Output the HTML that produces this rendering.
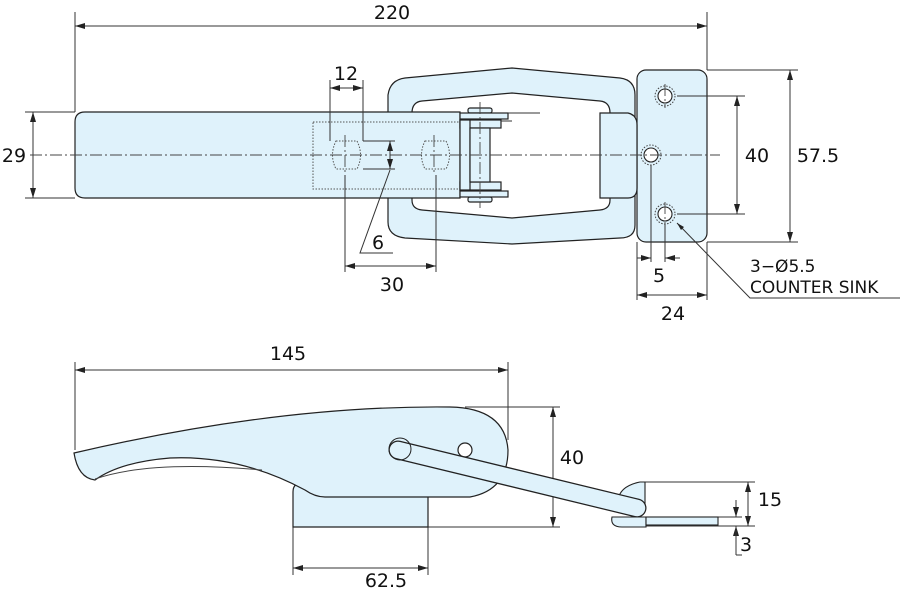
<!DOCTYPE html>
<html><head><style>
html,body{margin:0;padding:0;background:#fff;}
svg{display:block;}
text{font-family:"DejaVu Sans","Liberation Sans",sans-serif;font-size:19px;fill:#111;}
</style></head><body>
<svg width="900" height="590" viewBox="0 0 900 590" xmlns="http://www.w3.org/2000/svg">
<defs>
<marker id="a" viewBox="0 0 10 6" refX="10" refY="3" markerWidth="10" markerHeight="6" orient="auto-start-reverse" markerUnits="userSpaceOnUse"><path d="M0,0L10,3L0,6z" fill="#222"/></marker>
</defs>
<g stroke="#333" stroke-width="1" fill="none">
<!-- top view extension / dims -->
<line x1="75" y1="12" x2="75" y2="112"/>
<line x1="707" y1="12" x2="707" y2="70"/>
<line x1="75" y1="26" x2="707" y2="26" marker-start="url(#a)" marker-end="url(#a)"/>
<line x1="25" y1="112" x2="75" y2="112"/>
<line x1="25" y1="198" x2="75" y2="198"/>
<line x1="33" y1="112" x2="33" y2="198" marker-start="url(#a)" marker-end="url(#a)"/>
</g>
<!-- loop frame -->
<path d="M388,95 Q390,80 405,78 L512,68 L620,78 Q635,80 635,95 L635,225 Q635,238 620,238 L512,244 L405,238 Q388,236 388,222 Z M412,113 Q412,102 422,101 L512,93 L600,101 Q610,102 610,113 L610,200 Q610,209 600,210 L512,218 L422,210 Q412,209 412,200 Z" fill="#dff2fb" fill-rule="evenodd" stroke="#222" stroke-width="1.2"/>
<!-- right plate -->
<rect x="637" y="70" width="70" height="172" rx="9" fill="#dff2fb" stroke="#222" stroke-width="1.2"/>
<!-- hinge block -->
<path d="M600,113 L628,113 Q637,115 637,125 L637,188 Q637,198 628,198 L600,198 Z" fill="#dff2fb" stroke="#222" stroke-width="1.2"/>
<!-- bar -->
<path d="M460,112 L85,112 Q75,112 75,122 L75,188 Q75,198 85,198 L460,198 Z" fill="#dff2fb" stroke="#222" stroke-width="1.2"/>
<rect x="313" y="122" width="147" height="67" fill="none" stroke="#555" stroke-dasharray="1.5,1.5"/>
<!-- slots -->
<g fill="none" stroke="#555" stroke-dasharray="1.5,1.5">
<path d="M336,141 L357,141 Q364,155 357,169 L336,169 Q329,155 336,141Z"/>
<path d="M425,141 L446,141 Q453,155 446,169 L425,169 Q418,155 425,141Z"/>
</g>
<!-- pin assembly -->
<g fill="#dff2fb" stroke="#222" stroke-width="1.2">
<rect x="468" y="108" width="24" height="5" rx="2"/>
<rect x="468" y="197" width="24" height="5" rx="2"/>
<rect x="460" y="113" width="48" height="6"/>
<rect x="460" y="191" width="48" height="6"/>
<rect x="460" y="120" width="41" height="8"/>
<rect x="460" y="182" width="41" height="8"/>
<rect x="460" y="120" width="10" height="70"/>
<rect x="470" y="128" width="20" height="54"/>
</g>
<!-- holes -->
<g fill="#fff" stroke="#222" stroke-width="1.1">
<circle cx="665" cy="96" r="7"/><circle cx="651" cy="155" r="7"/><circle cx="665" cy="214" r="7"/>
</g>
<g fill="none" stroke="#444" stroke-dasharray="1.5,1.5">
<circle cx="665" cy="96" r="10"/><circle cx="651" cy="155" r="10"/><circle cx="665" cy="214" r="10"/>
</g>
<!-- centerlines -->
<g stroke="#444" stroke-width="0.9" fill="none" stroke-dasharray="12,3,2,3">
<line x1="30" y1="155" x2="720" y2="155"/>
<line x1="480" y1="102" x2="480" y2="208"/>
<line x1="665" y1="84" x2="665" y2="108"/>
<line x1="665" y1="202" x2="665" y2="226"/>
<line x1="345" y1="135" x2="345" y2="175"/>
<line x1="434" y1="135" x2="434" y2="175"/>
</g>
<g stroke="#333" stroke-width="1" fill="none">
<line x1="508" y1="113" x2="540" y2="113"/>
<line x1="501" y1="121" x2="512" y2="121"/>
<!-- 40 / 57.5 -->
<line x1="677" y1="96" x2="745" y2="96"/>
<line x1="677" y1="214" x2="745" y2="214"/>
<line x1="707" y1="70" x2="798" y2="70"/>
<line x1="707" y1="242" x2="798" y2="242"/>
<line x1="737" y1="96" x2="737" y2="214" marker-start="url(#a)" marker-end="url(#a)"/>
<line x1="790" y1="70" x2="790" y2="242" marker-start="url(#a)" marker-end="url(#a)"/>
<!-- 12 -->
<line x1="330" y1="80" x2="330" y2="141"/>
<line x1="363" y1="80" x2="363" y2="141"/>
<line x1="330" y1="88" x2="363" y2="88" marker-start="url(#a)" marker-end="url(#a)"/>
<!-- 6 -->
<line x1="363" y1="141" x2="395" y2="141"/>
<line x1="363" y1="169" x2="395" y2="169"/>
<line x1="390" y1="141" x2="390" y2="169" marker-start="url(#a)" marker-end="url(#a)"/>
<polyline points="390,170 360,253 393,253"/>
<!-- 30 -->
<line x1="345" y1="175" x2="345" y2="272"/>
<line x1="436" y1="175" x2="436" y2="272"/>
<line x1="345" y1="266" x2="436" y2="266" marker-start="url(#a)" marker-end="url(#a)"/>
<!-- 5 / 24 -->
<line x1="637" y1="242" x2="637" y2="300"/>
<line x1="707" y1="242" x2="707" y2="300"/>
<line x1="651" y1="165" x2="651" y2="262"/>
<line x1="665" y1="224" x2="665" y2="262"/>
<line x1="637" y1="258" x2="651" y2="258" marker-end="url(#a)"/>
<line x1="680" y1="258" x2="665" y2="258" marker-end="url(#a)"/>
<line x1="637" y1="295" x2="707" y2="295" marker-start="url(#a)" marker-end="url(#a)"/>
<polyline points="900,298 750,298 677,223" />
</g>
<path d="M677,223 L684,227 L681,230 Z" fill="#222"/>
<text x="392" y="19" text-anchor="middle">220</text>
<text x="14" y="162" text-anchor="middle">29</text>
<text x="346" y="80" text-anchor="middle">12</text>
<text x="378" y="249" text-anchor="middle">6</text>
<text x="392" y="291" text-anchor="middle">30</text>
<text x="757" y="162" text-anchor="middle">40</text>
<text x="818" y="162" text-anchor="middle">57.5</text>
<text x="659" y="282" text-anchor="middle">5</text>
<text x="673" y="320" text-anchor="middle">24</text>
<text x="750" y="272" style="font-size:17px">3−Ø5.5</text>
<text x="750" y="293" style="font-size:17px">COUNTER SINK</text>

<!-- bottom view -->
<g stroke="#333" stroke-width="1" fill="none">
<line x1="75" y1="362" x2="75" y2="450"/>
<line x1="508" y1="362" x2="508" y2="440"/>
<line x1="75" y1="370" x2="508" y2="370" marker-start="url(#a)" marker-end="url(#a)"/>
<line x1="465" y1="407" x2="560" y2="407"/>
<line x1="428" y1="527" x2="560" y2="527"/>
<line x1="553" y1="407" x2="553" y2="527" marker-start="url(#a)" marker-end="url(#a)"/>
<line x1="293" y1="527" x2="293" y2="575"/>
<line x1="428" y1="527" x2="428" y2="575"/>
<line x1="293" y1="568" x2="428" y2="568" marker-start="url(#a)" marker-end="url(#a)"/>
<line x1="645" y1="482" x2="755" y2="482"/>
<line x1="718" y1="517" x2="742" y2="517"/>
<line x1="645" y1="526" x2="755" y2="526"/>
<line x1="748" y1="482" x2="748" y2="526" marker-start="url(#a)" marker-end="url(#a)"/>
<line x1="736" y1="500" x2="736" y2="517" marker-end="url(#a)"/>
<line x1="736" y1="545" x2="736" y2="526" marker-end="url(#a)"/>
<line x1="736" y1="526" x2="736" y2="555"/>
<line x1="736" y1="555" x2="742" y2="555"/>
</g>
<!-- base -->
<path d="M293,527 L293,492 Q293,483 302,483 L428,483 L428,527 Z" fill="#dff2fb" stroke="#222" stroke-width="1.2"/>
<!-- handle -->
<path d="M74,453 Q280,405 450,407 Q505,408 508,450 Q508,490 470,497 L325,497 Q315,497 305,490 Q240,455 170,458 Q120,462 95,480 Q78,478 74,453 Z" fill="#dff2fb" stroke="#222" stroke-width="1.2"/>
<path d="M95,479 Q150,460 262,470" fill="none" stroke="#444" stroke-width="1"/>
<circle cx="465" cy="450" r="7" fill="#fff" stroke="#222" stroke-width="1.2"/>
<!-- hook -->
<path d="M640,482 Q620,486 618,500 L630,505 L645,505 L645,482 Z" fill="#dff2fb" stroke="#222" stroke-width="1.1"/>
<path d="M646,517 L612,517 Q610,527 622,527 L646,527 Z" fill="#dff2fb" stroke="#222" stroke-width="1.1"/>
<rect x="646" y="517" width="72" height="8" fill="#dff2fb" stroke="#222" stroke-width="1.1"/>
<!-- rod -->
<line x1="398" y1="450" x2="637" y2="508" stroke="#222" stroke-width="19" stroke-linecap="round"/>
<line x1="398" y1="450" x2="637" y2="508" stroke="#dff2fb" stroke-width="16.5" stroke-linecap="round"/>
<circle cx="400" cy="449" r="11" fill="none" stroke="#222" stroke-width="1"/>
<text x="288" y="360" text-anchor="middle">145</text>
<text x="572" y="464" text-anchor="middle">40</text>
<text x="770" y="506" text-anchor="middle">15</text>
<text x="746" y="551" text-anchor="middle">3</text>
<text x="386" y="587" text-anchor="middle">62.5</text>
</svg>
</body></html>
